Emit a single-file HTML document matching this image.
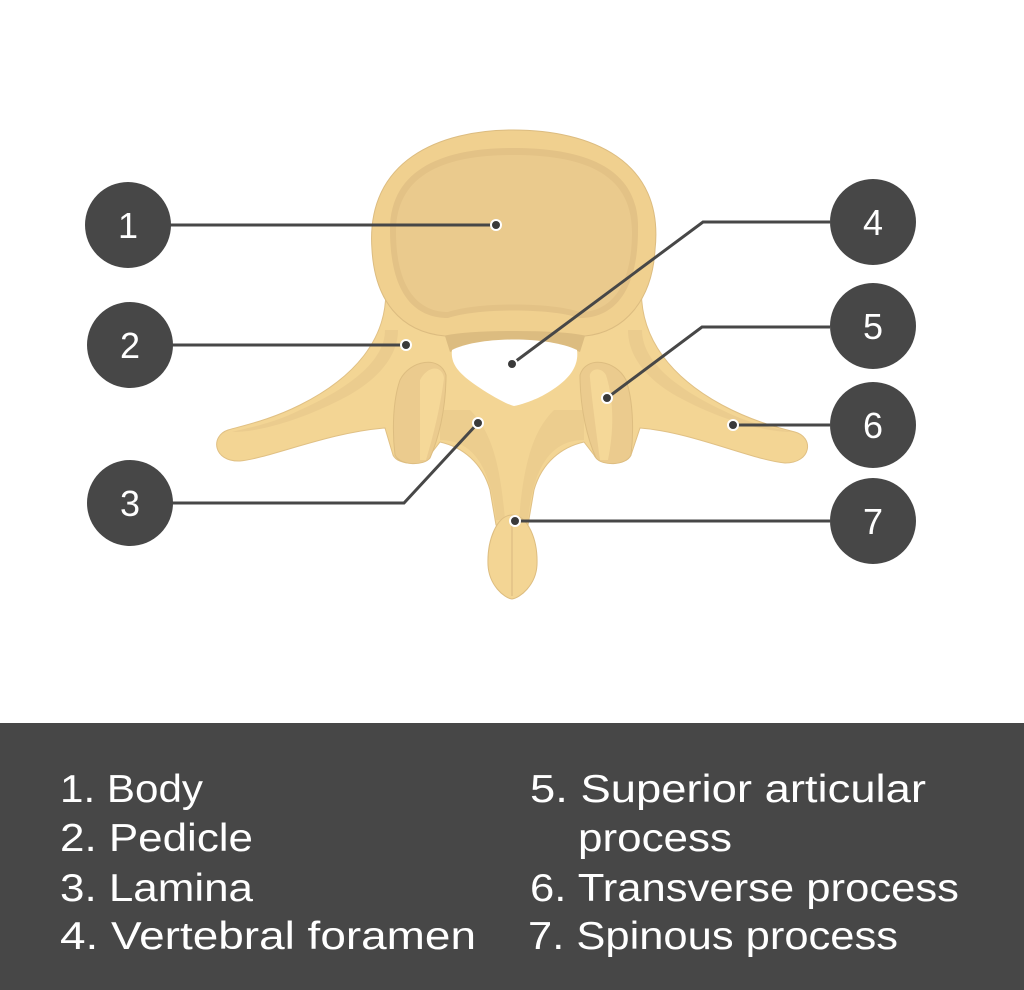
<!DOCTYPE html>
<html><head><meta charset="utf-8"><style>
html,body{margin:0;padding:0;background:#fff;}
svg{display:block;}
</style></head><body>
<svg width="1024" height="990" viewBox="0 0 1024 990" xmlns="http://www.w3.org/2000/svg">
<rect x="0" y="0" width="1024" height="990" fill="#fff"/>
<!-- neural arch -->
<path d="M385,280 C392,340 350,380 300,405 C270,420 245,425 228,430 C210,436 213,462 240,461 C270,458 330,432 385,428 L393,455 C398,466 425,466 430,455 L440,442 C462,447 482,462 490,490 L496,525 L528,525 L534,490 C542,462 562,447 584,442 L594,455 C599,466 626,466 631,455 L640,428 C692,432 752,460 785,463 C812,463 814,437 795,432 C775,427 750,420 722,405 C676,380 636,340 642,280 Z" fill="#f3d594" stroke="#e0c084" stroke-width="1"/>
<!-- transverse shading -->
<path d="M385,330 C385,365 340,392 300,410 C270,425 245,428 232,432 C260,432 300,420 340,400 C372,384 398,360 398,330 Z" fill="#e6c68a" opacity="0.6"/>
<path d="M642,330 C642,365 684,392 722,410 C752,425 775,428 792,432 C765,432 722,420 684,400 C652,384 628,360 628,330 Z" fill="#e6c68a" opacity="0.6"/>
<!-- lamina shading -->
<path d="M440,410 L470,410 C490,430 500,460 505,520 L496,520 C492,480 480,440 440,440 Z" fill="#e8c98c" opacity="0.7"/>
<path d="M584,410 L554,410 C534,430 524,460 519,520 L528,520 C532,480 544,440 584,440 Z" fill="#e8c98c" opacity="0.7"/>
<!-- body underside band -->
<path d="M440,320 L590,320 L580,352 C550,338 480,338 450,352 Z" fill="#dcbc80"/>
<!-- articular processes -->
<path d="M400,380 C410,360 440,355 446,375 C446,410 438,440 430,458 C424,466 400,466 395,455 C392,430 393,400 400,380 Z" fill="#ebcb8e" stroke="#ddbd80" stroke-width="1"/>
<path d="M420,380 C428,365 442,365 444,378 C440,410 432,440 426,460 L420,460 C420,430 420,400 420,380 Z" fill="#f5d898"/>
<path d="M626,380 C616,360 586,355 580,375 C580,410 588,440 596,458 C602,466 626,466 631,455 C634,430 633,400 626,380 Z" fill="#ebcb8e" stroke="#ddbd80" stroke-width="1"/>
<path d="M590,378 C588,370 600,365 606,375 C614,400 614,430 608,460 L600,460 C596,430 592,400 590,378 Z" fill="#f5d898"/>
<!-- spinous bulb -->
<path d="M512,515 C528,515 538,540 537,565 C536,585 520,598 512,599 C504,598 489,585 488,565 C487,540 497,515 512,515 Z" fill="#f3d594" stroke="#ddbd80" stroke-width="1"/>
<line x1="512" y1="520" x2="512" y2="596" stroke="#e6c68a" stroke-width="2"/>
<!-- body -->
<path d="M372,250 C365,160 440,130 513,130 C590,130 665,160 655,250 C652,300 625,332 585,336 C555,330 475,330 445,336 C400,332 375,300 372,250 Z" fill="#f0d08f" stroke="#dcbc80" stroke-width="1"/>
<path d="M390,230 C390,165 450,148 513,148 C580,148 640,165 638,230 C638,290 615,318 580,318 C550,308 478,308 448,318 C412,318 390,290 390,230 Z" fill="#e3c286"/>
<path d="M396,232 C396,170 452,155 513,155 C578,155 632,170 632,232 C632,285 612,312 580,312 C550,302 478,302 448,312 C416,312 396,285 396,232 Z" fill="#eaca8d"/>
<!-- foramen -->
<path d="M452,350 C480,336 548,336 577,350 C580,372 560,386 542,396 C532,401 520,405 514,406 C506,404 492,396 480,388 C462,376 450,366 452,350 Z" fill="#fff"/>
<!-- leader lines -->
<g stroke="#474747" stroke-width="3" fill="none">
<path d="M170,225 L496,225"/>
<path d="M172,345 L406,345"/>
<path d="M172,503 L404,503 L478,423"/>
<path d="M830,222 L703,222 L512,364"/>
<path d="M830,327 L702,327 L607,398"/>
<path d="M830,425 L733,425"/>
<path d="M830,521 L515,521"/>
</g>
<g fill="#3a3a3a" stroke="#fff" stroke-width="2">
<circle cx="496" cy="225" r="5"/><circle cx="406" cy="345" r="5"/><circle cx="478" cy="423" r="5"/>
<circle cx="512" cy="364" r="5"/><circle cx="607" cy="398" r="5"/><circle cx="733" cy="425" r="5"/><circle cx="515" cy="521" r="5"/>
</g>
<!-- number circles -->
<g fill="#474747">
<circle cx="128" cy="225" r="43"/><circle cx="130" cy="345" r="43"/><circle cx="130" cy="503" r="43"/>
<circle cx="873" cy="222" r="43"/><circle cx="873" cy="326" r="43"/><circle cx="873" cy="425" r="43"/><circle cx="873" cy="521" r="43"/>
</g>
<g fill="#fff" font-family="Liberation Sans, sans-serif" font-size="36" text-anchor="middle">
<text x="128" y="238">1</text><text x="130" y="358">2</text><text x="130" y="516">3</text>
<text x="873" y="235">4</text><text x="873" y="339">5</text><text x="873" y="438">6</text><text x="873" y="534">7</text>
</g>
<!-- legend -->
<rect x="0" y="723" width="1024" height="267" fill="#474747"/>
<g fill="#fff" font-family="Liberation Sans, sans-serif" font-size="39">
<text x="60" y="802" textLength="143" lengthAdjust="spacingAndGlyphs">1. Body</text>
<text x="60" y="851" textLength="193" lengthAdjust="spacingAndGlyphs">2. Pedicle</text>
<text x="60" y="901" textLength="193" lengthAdjust="spacingAndGlyphs">3. Lamina</text>
<text x="60" y="949" textLength="416" lengthAdjust="spacingAndGlyphs">4. Vertebral foramen</text>
<text x="530" y="802" textLength="396" lengthAdjust="spacingAndGlyphs">5. Superior articular</text>
<text x="578" y="851" textLength="154" lengthAdjust="spacingAndGlyphs">process</text>
<text x="530" y="901" textLength="429" lengthAdjust="spacingAndGlyphs">6. Transverse process</text>
<text x="528" y="949" textLength="370" lengthAdjust="spacingAndGlyphs">7. Spinous process</text>
</g>
</svg>
</body></html>
